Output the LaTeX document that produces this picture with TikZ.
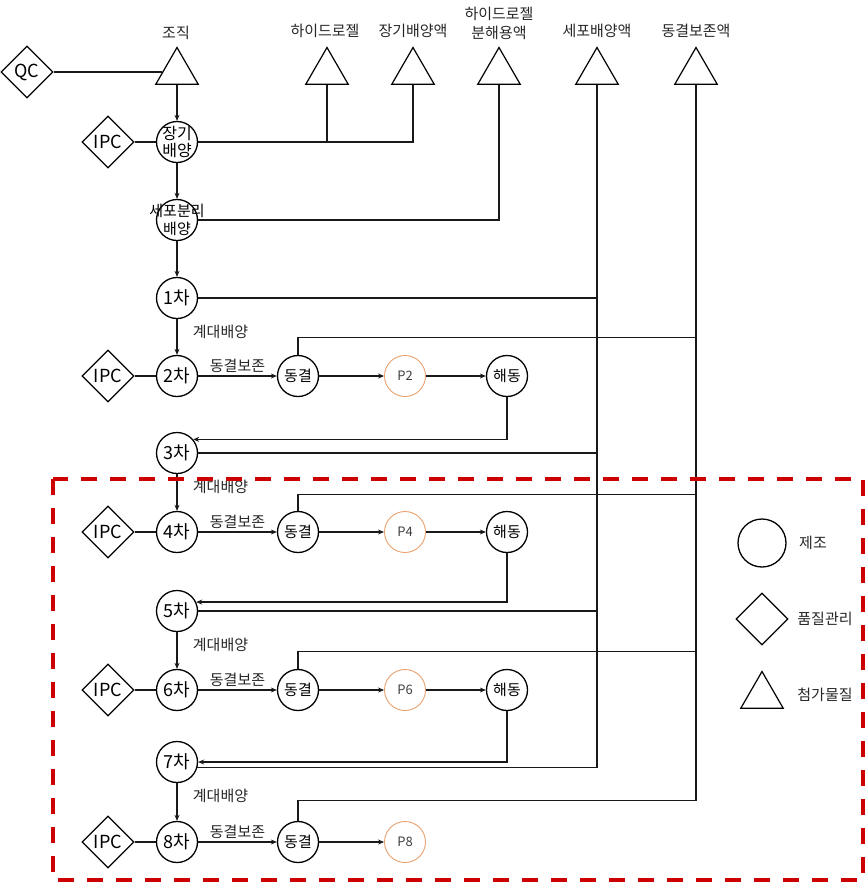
\documentclass[tikz,border=0pt]{standalone}
\usepackage{fontspec}
\setmainfont{Noto Sans CJK KR}
\usepackage{tikz}
\usetikzlibrary{shapes.geometric, arrows.meta, positioning}

\definecolor{boxred}{RGB}{204,0,0}
\definecolor{porange}{RGB}{232,160,110}

\begin{document}
\begin{tikzpicture}[
    x=1pt, y=-1pt,
    % Styles
    proc/.style={circle, draw=black, line width=1.3pt, minimum size=41pt, inner sep=0pt, font=\fontsize{18}{20}\selectfont},
    store/.style={circle, draw=porange, line width=0.9pt, minimum size=41pt, inner sep=0pt, text=black!75, font=\fontsize{13}{15}\selectfont},
    qcbox/.style={diamond, draw=black, line width=1.2pt, minimum width=52pt, minimum height=52pt, inner sep=0pt, font=\fontsize{18}{20}\selectfont},
    addbox/.style={regular polygon, regular polygon sides=3, draw=black, line width=1.2pt, minimum size=49pt, inner sep=0pt},
    lbl/.style={font=\fontsize{15}{19}\selectfont, align=center, text=black!85},
    intext/.style={font=\fontsize{16}{17.5}\selectfont, align=center},
    link/.style={line width=1.2pt, draw=black!90},
    arrow/.style={link, -{Stealth[length=6pt,width=5pt]}},
    reddash/.style={draw=boxred, line width=4pt, dash pattern=on 16pt off 13pt}
]
\useasboundingbox (0,0) rectangle (866,884);

% Additives
\node[addbox] (tissue) at (177,72) {};
\node[addbox] (hydro) at (327,72) {};
\node[addbox] (longmed) at (413,72) {};
\node[addbox] (degr) at (499,72) {};
\node[addbox] (cellmed) at (597,72) {};
\node[addbox] (frzmed) at (696,72) {};
\node[lbl] (tissue-l) at (176,33) {조직};
\node[lbl] (hydro-l) at (325,31) {하이드로젤};
\node[lbl] (longmed-l) at (413,31) {장기배양액};
\node[lbl] (degr-l) at (499,23) {하이드로젤\\분해용액};
\node[lbl] (cellmed-l) at (597,31) {세포배양액};
\node[lbl] (frzmed-l) at (696,31) {동결보존액};

% Main column
\node[qcbox] (qc) at (27,72) {QC};
\node[proc] (longcult) at (177,142) {};
\node[intext] (longcult-t) at (longcult) {장기\\배양};
\node[qcbox] (ipc0) at (108,142) {IPC};
\node[proc] (sep) at (177,220) {};
\node[intext, font=\fontsize{15}{17.5}\selectfont] (sep-t) at (sep) {세포분리\\배양};

\foreach \n/\y in {1/298, 3/453, 5/611, 7/762}
    \node[proc] (c\n) at (177,\y) {{\n}차};

\foreach \n/\y in {2/376, 4/532, 6/690, 8/842} {
    \node[qcbox] (ipc\n) at (108,\y) {IPC};
    \node[proc] (c\n) at (177,\y) {{\n}차};
    \node[proc, font=\fontsize{15}{17}\selectfont] (fz\n) at (298,\y) {동결};
    \node[store] (p\n) at (405,\y) {P\n};
    \draw[link] (ipc\n) -- (c\n);
    \draw[arrow] (c\n) -- node[lbl, above, yshift=-1pt] (keep\n) {동결보존} (fz\n);
    \draw[arrow] (fz\n) -- (p\n);
}
\foreach \n/\y in {2/376, 4/532, 6/690} {
    \node[proc, font=\fontsize{15}{17}\selectfont] (th\n) at (507,\y) {해동};
    \draw[arrow] (p\n) -- (th\n);
}

% Main flow
\draw[link] (qc) -- (tissue);
\draw[arrow] (tissue.south) -- (longcult);
\draw[link] (ipc0) -- (longcult);
\draw[arrow] (longcult) -- (sep);
\draw[arrow] (sep) -- (c1);
\foreach \a/\b in {1/2, 3/4, 5/6, 7/8}
    \draw[arrow] (c\a) -- node[lbl, right, pos=0.35, xshift=12pt] (pass\b) {계대배양} (c\b);

% Thaw back to next passage
\draw[arrow] (th2) |- (c3.40);
\draw[arrow] (th4) |- (c5.25);
\draw[arrow] (th6) |- (c7.east);

% Additive feed lines
\draw[link] (longcult) -- (longcult -| longmed.south) -- (longmed.south);
\draw[link] (hydro.south) -- (hydro.south |- longcult);
\draw[link] (sep) -- (sep -| degr.south) -- (degr.south);
\draw[link] (cellmed.south) |- (c7.-15);
\foreach \n in {1,3,5}
    \draw[link] (c\n) -- (c\n -| cellmed.south);
\foreach \n/\h in {2/17, 4/16, 6/17, 8/20}
    \draw[link] (fz\n.north) -- ++(0,-\h) -| (frzmed.south);

% Legend
\node[proc, minimum size=48pt] (leg-proc) at (762,543) {};
\node[lbl] (leg-proc-l) at (813,543) {제조};
\node[qcbox] (leg-qc) at (762,619) {};
\node[lbl] (leg-qc-l) at (825,619) {품질관리};
\node[addbox] (leg-add) at (762,696) {};
\node[lbl] (leg-add-l) at (825,695) {첨가물질};

% Repeated passage region
\draw[reddash] (53,479) rectangle (863,880);

\end{tikzpicture}
\end{document}
